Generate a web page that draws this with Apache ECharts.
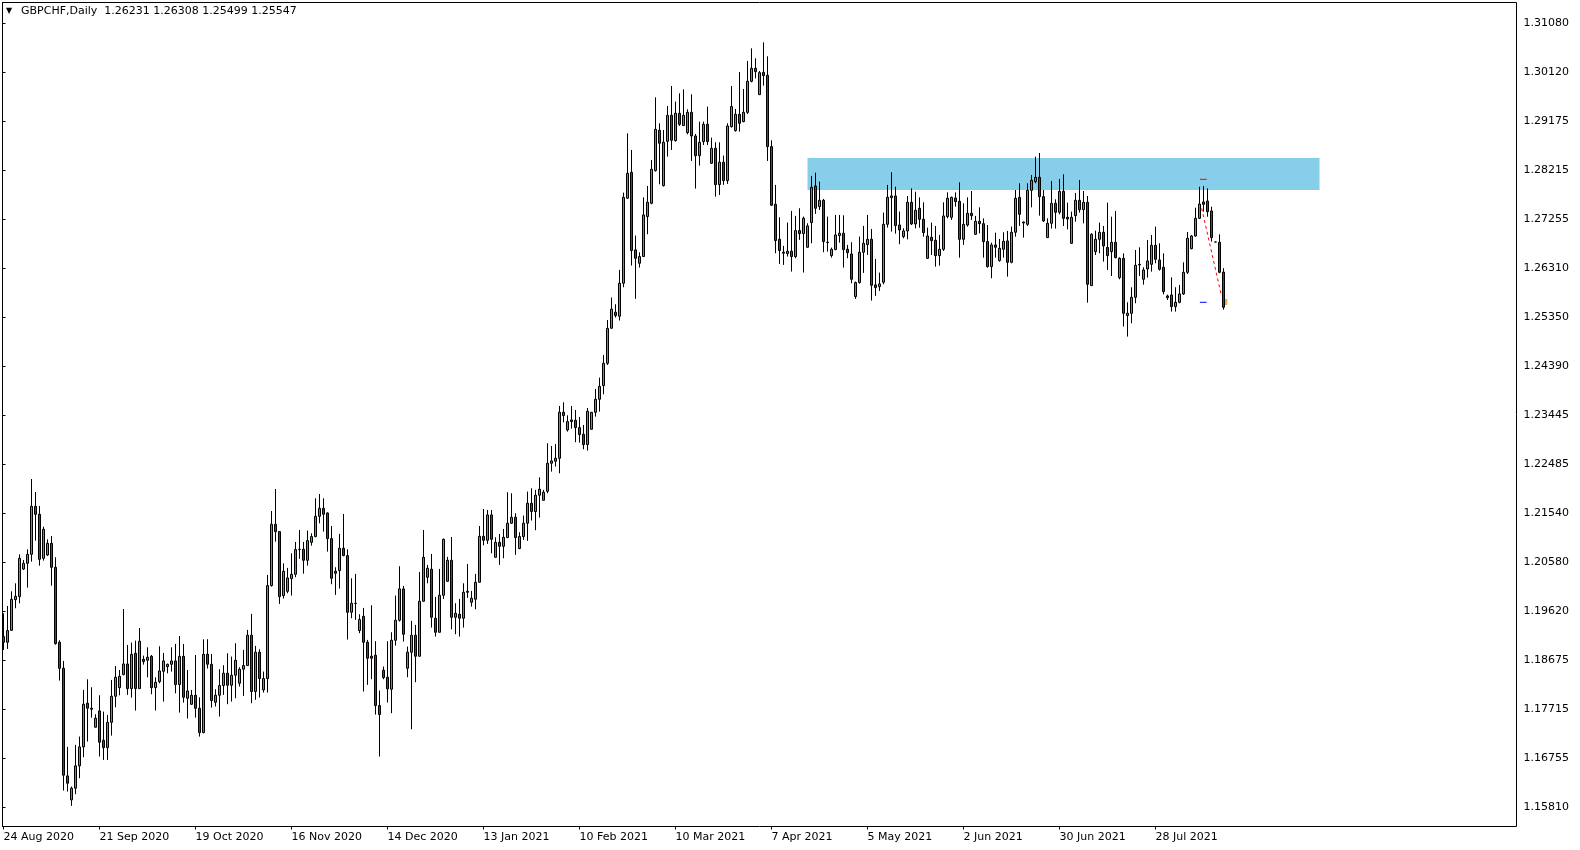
<!DOCTYPE html>
<html><head><meta charset="utf-8">
<script src="https://cdn.jsdelivr.net/npm/echarts@6/dist/echarts.min.js"></script>
<style>html,body{margin:0;padding:0;background:#fff;}#c{width:1580px;height:850px;}</style>
</head><body><div id="c"></div>
<script>
const symbolName = 'GBPCHF,Daily';
const headerPrices = ['1.26231', '1.26308', '1.25499', '1.25547'];
const dateLabels = ['24 Aug 2020', '21 Sep 2020', '19 Oct 2020', '16 Nov 2020', '14 Dec 2020', '13 Jan 2021', '10 Feb 2021', '10 Mar 2021', '7 Apr 2021', '5 May 2021', '2 Jun 2021', '30 Jun 2021', '28 Jul 2021'];
const priceTicks = [1.31080, 1.30120, 1.29175, 1.28215, 1.27255, 1.26310, 1.25350, 1.24390, 1.23445, 1.22485, 1.21540, 1.20580, 1.19620, 1.18675, 1.17715, 1.16755, 1.15810];

const opens = [1.19131,1.19021,1.19254,1.19851,1.1991,1.20448,1.20559,1.20734,1.21669,1.21513,1.20656,1.20721,1.20948,1.20481,1.19021,1.18514,1.16418,1.15951,1.16178,1.16613,1.16983,1.17833,1.17736,1.17366,1.17684,
1.17112,1.16969,1.17462,1.17969,1.18137,1.18391,1.18598,1.18118,1.18806,1.18118,1.18689,1.1867,1.18747,1.18137,1.18254,1.18455,1.18546,1.18592,1.18657,1.18196,1.18747,1.1793,1.17813,1.17988,1.17735,
1.17261,1.18788,1.18593,1.17853,1.17989,1.18178,1.18418,1.18184,1.18379,1.18223,1.18496,1.18567,1.19158,1.18061,1.18827,1.18093,1.18314,1.20125,1.21319,1.21176,1.1993,1.20014,1.20261,1.20345,1.20826,
1.20832,1.20618,1.20968,1.21079,1.21475,1.2163,1.21539,1.2104,1.20404,1.20417,1.20852,1.20709,1.19605,1.19781,1.19249,1.19528,1.19021,1.18749,1.18768,1.17788,1.18476,1.1834,1.18106,1.1906,1.1945,
1.2006,1.18515,1.18827,1.19158,1.18749,1.1982,1.20287,1.20443,1.19489,1.19216,1.19936,1.20209,1.20618,1.19508,1.19567,1.19489,1.20014,1.198,1.19859,1.2019,1.21085,1.21007,1.21501,1.20676,1.20968,
1.2089,1.21061,1.2134,1.21456,1.20846,1.2108,1.2134,1.21729,1.21567,1.21885,1.21787,1.21963,1.22508,1.22547,1.22605,1.23501,1.23157,1.23352,1.23345,1.23202,1.23072,1.22871,1.2317,1.23501,1.23754,
1.2402,1.24455,1.25139,1.2545,1.25372,1.26015,1.2767,1.28176,1.26664,1.26404,1.26534,1.27313,1.27572,1.28208,1.28994,1.27916,1.28779,1.29286,1.28792,1.29325,1.29085,1.28948,1.29344,1.28883,1.285,
1.28773,1.29111,1.28351,1.28643,1.27936,1.28371,1.28014,1.29065,1.28987,1.29305,1.29163,1.29344,1.29948,1.30201,1.29688,1.30123,1.30065,1.28676,1.27553,1.26872,1.26619,1.26593,1.26638,1.26534,1.2704,
1.26982,1.26715,1.27196,1.27909,1.27507,1.2763,1.26813,1.26553,1.2667,1.26942,1.26988,1.26676,1.26585,1.25755,1.26027,1.26618,1.26767,1.26871,1.25982,1.25949,1.26034,1.27163,1.27682,1.27715,1.2715,
1.26923,1.27033,1.27591,1.27169,1.27474,1.2726,1.265,1.26909,1.26851,1.26552,1.26676,1.27312,1.27299,1.27675,1.2761,1.2687,1.27149,1.27377,1.26968,1.27221,1.27175,1.26825,1.26338,1.2676,1.26455,
1.26676,1.26838,1.26423,1.27007,1.27688,1.27208,1.27162,1.27824,1.27993,1.28078,1.27701,1.26903,1.27182,1.27571,1.27396,1.27805,1.27299,1.26792,1.27331,1.2763,1.27448,1.27591,1.25968,1.2663,1.2687,
1.27007,1.26714,1.2663,1.26812,1.26124,1.265,1.25384,1.25429,1.25741,1.26383,1.26091,1.26292,1.26383,1.26753,1.26468,1.26325,1.25767,1.25786,1.25559,1.25643,1.25806,1.26228,1.26688,1.26935,1.27279,
1.27597,1.27616,1.27422,1.26818,1.26812,1.26231];

const highs = [1.19585,1.19728,1.20014,1.20169,1.20734,1.20624,1.20831,1.22201,1.21948,1.21675,1.21273,1.21026,1.21091,1.20676,1.1906,1.18657,1.16983,1.1621,1.17022,1.17184,1.18093,1.183,1.18145,1.17619,1.17989,
1.1767,1.17605,1.18287,1.18559,1.18481,1.19669,1.18968,1.19014,1.19053,1.19299,1.1876,1.18923,1.18773,1.18339,1.18942,1.18812,1.18605,1.18923,1.18988,1.19143,1.18988,1.18481,1.18092,1.18773,1.17949,
1.19078,1.1908,1.18794,1.18106,1.18496,1.18574,1.18807,1.18742,1.19002,1.18535,1.18872,1.19262,1.19573,1.1895,1.18885,1.1845,1.20332,1.21578,1.22007,1.21189,1.20559,1.20469,1.20754,1.20975,1.21208,
1.20975,1.21196,1.21144,1.21825,1.21909,1.21825,1.21552,1.21286,1.20482,1.21131,1.2152,1.20832,1.20267,1.20352,1.19567,1.1969,1.19067,1.19742,1.19041,1.1808,1.18548,1.19041,1.19216,1.1993,1.20501,
1.20118,1.18937,1.19437,1.19359,1.20391,1.21208,1.20527,1.20741,1.19904,1.20449,1.2104,1.20683,1.21072,1.19781,1.19865,1.2017,1.20547,1.20021,1.20352,1.21286,1.21617,1.21598,1.21598,1.21066,1.21131,
1.21228,1.21943,1.21924,1.21534,1.21164,1.21489,1.21956,1.22021,1.21989,1.22235,1.21989,1.22897,1.22845,1.22884,1.23624,1.23695,1.23442,1.23624,1.23546,1.2341,1.23254,1.23585,1.23507,1.23955,1.24176,
1.24617,1.25298,1.25736,1.25606,1.26274,1.2778,1.28935,1.28611,1.26943,1.26618,1.27689,1.2791,1.28416,1.29636,1.2913,1.29,1.29467,1.29857,1.29552,1.29714,1.29792,1.29403,1.29695,1.28922,1.29162,
1.29162,1.29455,1.28851,1.2876,1.2876,1.28501,1.2913,1.29857,1.29409,1.3013,1.29799,1.30344,1.3059,1.30396,1.30149,1.30707,1.30435,1.28799,1.2793,1.273,1.26742,1.27196,1.27423,1.27326,1.27475,
1.27313,1.27183,1.28104,1.28169,1.27994,1.27656,1.27312,1.26709,1.27345,1.27345,1.27338,1.26761,1.26813,1.26047,1.26923,1.27131,1.27345,1.27072,1.26488,1.26222,1.2739,1.27929,1.28176,1.27896,1.2741,
1.27085,1.27714,1.27863,1.27798,1.27688,1.27591,1.27097,1.27195,1.2713,1.26955,1.27591,1.27785,1.27701,1.27785,1.2798,1.27571,1.27688,1.27811,1.27325,1.27493,1.27279,1.27149,1.26805,1.27,1.26877,
1.27007,1.27033,1.27117,1.27831,1.27961,1.27214,1.27961,1.28123,1.2848,1.28551,1.27831,1.27279,1.28006,1.27649,1.28045,1.28136,1.27584,1.27409,1.27772,1.28026,1.27811,1.27714,1.26987,1.27039,1.27195,
1.2713,1.27584,1.27311,1.27422,1.2652,1.26597,1.25643,1.25936,1.26662,1.26714,1.26325,1.26857,1.26954,1.27117,1.26792,1.26597,1.25793,1.2613,1.25936,1.25981,1.26422,1.27013,1.26954,1.27487,1.27895,
1.27908,1.27863,1.27506,1.2682,1.26967,1.26308];

const lows = [1.18871,1.18891,1.19241,1.19683,1.1978,1.20429,1.20085,1.20591,1.21,1.20513,1.20611,1.20702,1.20124,1.18975,1.18274,1.16133,1.16113,1.15834,1.16061,1.16373,1.16782,1.17087,1.17554,1.17359,1.16795,
1.16729,1.16729,1.17203,1.17755,1.17988,1.18378,1.17995,1.17943,1.1769,1.18118,1.18585,1.18339,1.18008,1.1769,1.18222,1.17865,1.18416,1.18449,1.18027,1.17651,1.17845,1.17534,1.178,1.17553,1.17183,
1.17248,1.18509,1.17749,1.17769,1.17574,1.17996,1.17814,1.17866,1.17931,1.18158,1.17976,1.18561,1.17834,1.17899,1.17944,1.18041,1.18041,1.20105,1.20981,1.19768,1.19872,1.19975,1.1993,1.20287,1.20644,
1.20358,1.20514,1.20903,1.21066,1.21338,1.21176,1.20787,1.20151,1.19943,1.20066,1.20696,1.19073,1.19489,1.19456,1.19197,1.18061,1.18191,1.18301,1.17613,1.16795,1.18301,1.17847,1.17639,1.18956,1.19424,
1.19034,1.1834,1.17327,1.18243,1.18742,1.19813,1.2017,1.19307,1.19132,1.1921,1.19865,1.20196,1.19274,1.19177,1.19132,1.19307,1.19885,1.19716,1.19664,1.20183,1.2091,1.20936,1.20754,1.2067,1.20527,
1.20657,1.21048,1.21327,1.20723,1.20833,1.21015,1.20996,1.21392,1.21203,1.2145,1.21781,1.21924,1.22346,1.22443,1.22313,1.23306,1.23124,1.23183,1.22917,1.2291,1.2278,1.22754,1.23163,1.23416,1.23514,
1.23851,1.24422,1.25126,1.25346,1.25288,1.25937,1.27657,1.26359,1.2571,1.2632,1.26527,1.26969,1.27553,1.28189,1.27942,1.27897,1.28481,1.28611,1.28773,1.29078,1.29078,1.28916,1.28397,1.27858,1.28306,
1.28708,1.28708,1.28338,1.27702,1.27735,1.2793,1.27949,1.29046,1.28968,1.28968,1.2915,1.29312,1.29928,1.30006,1.29682,1.29864,1.28397,1.27521,1.26599,1.26391,1.26372,1.26534,1.26242,1.26502,1.26859,
1.26223,1.26709,1.26793,1.27364,1.27442,1.26618,1.26631,1.26514,1.26657,1.26806,1.26319,1.26501,1.26014,1.25709,1.26008,1.26216,1.26566,1.25677,1.25768,1.25865,1.25995,1.27098,1.2702,1.26981,1.26774,
1.2689,1.2687,1.27149,1.27084,1.27097,1.26922,1.26487,1.26565,1.26338,1.26358,1.26643,1.27279,1.27247,1.27506,1.26513,1.2676,1.27117,1.27247,1.26955,1.26987,1.26513,1.26319,1.26111,1.26513,1.26435,
1.26513,1.26143,1.26403,1.26922,1.2713,1.26903,1.2713,1.27493,1.27961,1.27331,1.27208,1.26896,1.27078,1.27078,1.27357,1.2713,1.27065,1.2678,1.27214,1.2739,1.27182,1.25637,1.25962,1.26565,1.26598,
1.26436,1.26273,1.26156,1.265,1.26091,1.2517,1.24975,1.25235,1.25624,1.26156,1.25987,1.26124,1.26241,1.26403,1.2626,1.25799,1.25689,1.25462,1.25462,1.25624,1.25786,1.26195,1.26675,1.26922,1.27266,
1.27409,1.27311,1.26825,1.26815,1.26208,1.25499];

const closes = [1.19021,1.19248,1.19858,1.19916,1.20656,1.20559,1.20734,1.21669,1.21513,1.20637,1.21221,1.20948,1.20481,1.18995,1.18514,1.16431,1.16275,1.16178,1.16613,1.16983,1.17814,1.17736,1.17716,1.17541,1.17074,
1.16969,1.17462,1.17969,1.18339,1.18358,1.18598,1.18118,1.18786,1.18118,1.1904,1.18644,1.18728,1.18137,1.18241,1.18462,1.18657,1.18592,1.18657,1.18196,1.18747,1.17949,1.18073,1.17988,1.17735,1.17261,
1.18786,1.18593,1.17886,1.17989,1.18178,1.18418,1.18184,1.18379,1.18671,1.18496,1.18567,1.19158,1.18061,1.18827,1.18314,1.18314,1.20125,1.21319,1.21176,1.1991,1.20404,1.20274,1.20345,1.20826,1.20832,
1.20618,1.21001,1.21079,1.21475,1.2163,1.21514,1.2104,1.20267,1.20365,1.20852,1.20709,1.19605,1.19781,1.19774,1.19463,1.19021,1.1871,1.1871,1.17788,1.17613,1.18333,1.18113,1.1906,1.1945,1.2006,
1.19177,1.18827,1.19158,1.18749,1.1982,1.20676,1.20462,1.19508,1.19216,1.19936,1.21027,1.20618,1.19508,1.19586,1.19489,1.19995,1.19995,1.19878,1.2019,1.21085,1.21007,1.21501,1.21027,1.20968,1.2089,
1.21066,1.2134,1.21456,1.21061,1.2108,1.2134,1.21729,1.21567,1.21885,1.22002,1.21943,1.22508,1.22553,1.22605,1.23501,1.23436,1.23319,1.23319,1.23202,1.23066,1.22871,1.2352,1.23501,1.23754,1.24007,
1.24455,1.25136,1.25509,1.25385,1.26015,1.27689,1.28156,1.26651,1.26501,1.26534,1.27345,1.27592,1.28234,1.29013,1.28741,1.2876,1.29286,1.28799,1.29325,1.2911,1.29286,1.29344,1.28883,1.285,1.2876,
1.2911,1.28773,1.28643,1.27936,1.28371,1.28014,1.29078,1.29455,1.29305,1.2913,1.29344,1.29948,1.30201,1.30136,1.30117,1.30058,1.28676,1.27534,1.26846,1.26651,1.26599,1.26638,1.26534,1.2704,1.26982,
1.2728,1.27131,1.27883,1.27475,1.2763,1.26826,1.26806,1.26676,1.26955,1.26988,1.2667,1.26611,1.26092,1.26027,1.26618,1.26793,1.26871,1.25975,1.2593,1.26001,1.27163,1.27689,1.27715,1.27137,1.27053,
1.27033,1.27591,1.27169,1.27435,1.2726,1.27,1.26935,1.26844,1.26552,1.26676,1.27325,1.27669,1.27688,1.27604,1.2687,1.27162,1.27377,1.27331,1.27221,1.27175,1.26825,1.26338,1.2676,1.26715,1.26695,
1.26831,1.26423,1.27007,1.27669,1.27357,1.27188,1.27824,1.28019,1.28078,1.27701,1.27227,1.27182,1.27571,1.27396,1.27805,1.27279,1.27266,1.27299,1.2763,1.27448,1.27591,1.25994,1.26968,1.2687,1.27007,
1.26741,1.26552,1.26812,1.26513,1.265,1.25429,1.25429,1.25741,1.26364,1.2637,1.26273,1.26448,1.26753,1.26481,1.26286,1.25851,1.25734,1.25559,1.25643,1.25806,1.26228,1.2689,1.26935,1.27279,1.27558,
1.27552,1.27409,1.26903,1.26818,1.26228,1.25547];

const lastPrice = 1.25547;
// resistance zone: [fromBar, toBar, upperPrice, lowerPrice]
const zone = [201, 329, 1.28454, 1.27831];
const stopLine = [[299.1, 1.28039], [300.8, 1.28039]];
const targetLine = [[299.1, 1.25643], [300.8, 1.25643]];
const tradePath = [[299.55, 1.27474], [304.5, 1.25766]];
const closeMark = [[305.6, 1.25649]];
const SLOTS = 379;
const Y_MIN = 1.15432, Y_MAX = 1.31483;

const FONT = 'DejaVu Sans';
const cats = Array.from({length: SLOTS}, (_, i) => String(i));
const candleData = opens.map((o, i) => [o, closes[i], lows[i], highs[i]]);
const showDate = (i) => i % 24 === 0 && (i / 24) < dateLabels.length;

const chart = echarts.init(document.getElementById('c'), null, {renderer: 'canvas'});
chart.setOption({
  animation: false,
  backgroundColor: '#ffffff',
  title: [
    {text: '\u25BC', left: 6, top: 7, padding: 0, textStyle: {fontFamily: FONT, fontSize: 8, fontWeight: 'normal', color: '#000'}},
    {text: symbolName + '  ' + headerPrices.join(' '), left: 21, top: 6, padding: 0, textStyle: {fontFamily: FONT, fontSize: 11, fontWeight: 'normal', color: '#000'}}
  ],
  grid: [
    {left: 2.5, top: 2.5, width: 1514, height: 824, show: true, borderColor: '#000', borderWidth: 1, backgroundColor: '#fff'},
    {left: 3.5, top: 2.5, width: 1512, height: 824, show: false}
  ],
  xAxis: [
    {gridIndex: 1, type: 'category', data: cats, boundaryGap: false,
     axisLine: {show: false},
     axisTick: {show: true, length: 3, interval: (i) => showDate(i), lineStyle: {color: '#000'}},
     axisLabel: {interval: (i) => showDate(i), formatter: (v, i) => dateLabels[Math.round(i / 24)] || '', align: 'left', margin: 5,
                 fontFamily: FONT, fontSize: 11, color: '#000'},
     splitLine: {show: false}},
    {gridIndex: 1, type: 'value', min: 0, max: SLOTS - 1, show: false, splitLine: {show: false}},
    {gridIndex: 0, type: 'value', min: 0, max: 1, show: false, splitLine: {show: false}}
  ],
  yAxis: [
    {gridIndex: 1, type: 'value', min: Y_MIN, max: Y_MAX, show: false, splitLine: {show: false}},
    {gridIndex: 0, type: 'value', position: 'right', min: Y_MIN, max: Y_MAX,
     axisLine: {show: true, lineStyle: {color: '#000', width: 1}},
     axisTick: {show: true, length: 3, customValues: priceTicks, lineStyle: {color: '#000'}},
     axisLabel: {customValues: priceTicks, formatter: (v) => Number(v).toFixed(5), margin: 7, fontFamily: FONT, fontSize: 11, color: '#000'},
     splitLine: {show: false}}
  ],
  series: [
    {type: 'custom', xAxisIndex: 1, yAxisIndex: 0, z: 1, silent: true, clip: true,
     encode: {x: [0, 1], y: [2, 3]},
     data: [zone],
     renderItem: (params, api) => {
       const p0 = api.coord([api.value(0), api.value(2)]);
       const p1 = api.coord([api.value(1), api.value(3)]);
       return {type: 'rect', shape: {x: p0[0], y: p0[1], width: p1[0] - p0[0], height: p1[1] - p0[1]}, style: {fill: '#87ceeb'}};
     }},
    {type: 'candlestick', xAxisIndex: 0, yAxisIndex: 0, z: 3, barWidth: 2, data: candleData,
     itemStyle: {color: '#00e000', color0: '#ff0000', borderColor: '#000', borderColor0: '#000', borderColorDoji: '#000', borderWidth: 1},
     emphasis: {disabled: true},
     markLine: {silent: true, symbol: ['none', 'none'], animation: false, data: [{yAxis: lastPrice}],
       lineStyle: {opacity: 0},
       label: {show: true, position: 'end', distance: 2, formatter: lastPrice.toFixed(5), backgroundColor: '#000', color: '#fff',
               fontFamily: FONT, fontSize: 11, lineHeight: 12, padding: [1, 3, 1, 6]}}},
    {type: 'line', xAxisIndex: 1, yAxisIndex: 0, z: 4, silent: true, symbol: 'none', data: stopLine, lineStyle: {color: '#ff0000', width: 1}},
    {type: 'line', xAxisIndex: 1, yAxisIndex: 0, z: 4, silent: true, symbol: 'none', data: targetLine, lineStyle: {color: '#0000ff', width: 1}},
    {type: 'line', xAxisIndex: 1, yAxisIndex: 0, z: 4, silent: true, symbol: 'none', data: tradePath, lineStyle: {color: '#ff0000', width: 1, type: [3, 3]}},
    {type: 'scatter', xAxisIndex: 1, yAxisIndex: 0, z: 2, silent: true, symbol: 'rect', symbolSize: [3, 6], data: closeMark, itemStyle: {color: '#daa520'}}
  ]
});
</script>
</body></html>
